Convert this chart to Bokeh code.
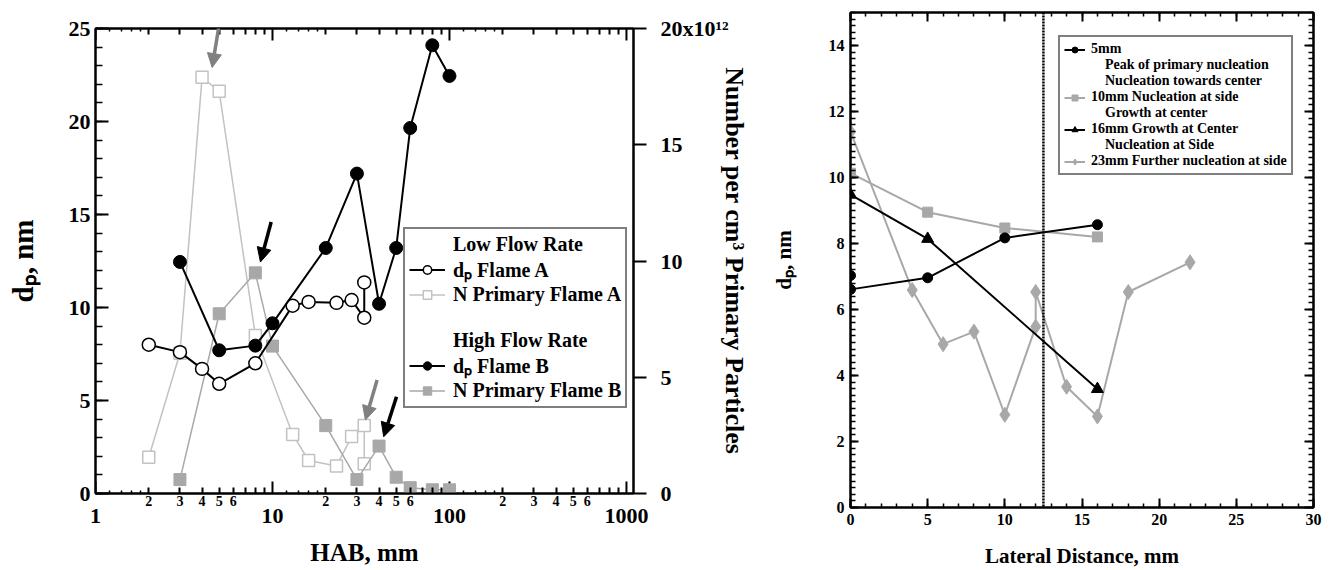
from bokeh.plotting import figure
from bokeh.models import (Range1d, LinearAxis, LogAxis, FixedTicker, SingleIntervalTicker,
                          Legend, LegendItem, Arrow, NormalHead, Span, CustomJSTickFormatter)
from bokeh.layouts import row, column
from bokeh.embed import file_html
from bokeh.resources import INLINE

# ---------------- data: left panel (HAB, log axis) ----------------
hab_A = [2, 3, 4, 5, 8, 13, 16, 23, 28, 33, 33]
dp_A = [8.0, 7.6, 6.7, 5.9, 7.0, 10.1, 10.3, 10.25, 10.4, 9.45, 11.35]
N_A = [1.56, 6.03, 17.9, 17.3, 6.8, 2.54, 1.42, 1.18, 2.45, 2.92, 1.28]      # x10^12 per cm3
hab_B = [3, 5, 8, 10, 20, 30, 40, 50, 60, 80, 100]
dp_B = [12.45, 7.7, 7.95, 9.15, 13.2, 17.2, 10.2, 13.2, 19.65, 24.1, 22.45]
N_B = [0.6, 7.73, 9.49, 6.34, 2.92, 0.6, 2.04, 0.7, 0.25, 0.16, 0.16]       # x10^12 per cm3

decades = [1, 10, 100, 1000]
n_ticks = [0, 5, 10, 15, 20]
n_top_label = "20x10\u00b9\u00b2"

# arrow annotations (start x, start y, end x, end y, colour)
arrow_marks = [
    (5.22, 26.3, 4.56, 22.9, "#808080"),
    (9.83, 14.6, 8.55, 12.45, "#000000"),
    (39.0, 6.1, 33.5, 3.95, "#808080"),
    (50.2, 5.2, 42.5, 3.05, "#000000"),
]

# ---------------- data: right panel (lateral distance) ----------------
lat_5 = [0, 0, 5, 10, 16]
dp_5 = [7.03, 6.61, 6.96, 8.17, 8.57]
lat_10 = [0, 5, 10, 16]
dp_10 = [10.13, 8.95, 8.47, 8.2]
lat_16 = [0, 5, 16]
dp_16 = [9.48, 8.14, 3.59]
lat_23 = [0, 4, 6, 8, 10, 12, 12, 14, 16, 18, 22]
dp_23 = [11.39, 6.59, 4.95, 5.33, 2.81, 5.48, 6.53, 3.66, 2.76, 6.53, 7.43]
center_line = 12.5

SERIF = "Liberation Serif"
GRAY_A = "#c2c2c2"
GRAY_B = "#a8a8a8"
NB = "\u00a0"


def style_axis(ax, major_in, minor_in, size, major_out=0, minor_out=0, standoff=4):
    ax.axis_line_color = "black"
    ax.axis_line_width = 2
    ax.major_tick_line_color = "black"
    ax.major_tick_line_width = 2
    ax.minor_tick_line_color = "black"
    ax.minor_tick_line_width = 1.5
    ax.major_tick_in = major_in
    ax.major_tick_out = major_out
    ax.minor_tick_in = minor_in
    ax.minor_tick_out = minor_out
    ax.major_label_text_font = SERIF
    ax.major_label_text_font_style = "bold"
    ax.major_label_text_font_size = size
    ax.major_label_text_color = "black"
    ax.major_label_standoff = standoff
    ax.axis_label_text_font = SERIF
    ax.axis_label_text_font_style = "bold"
    ax.axis_label_text_color = "black"


# ======================= LEFT PANEL =======================
p1 = figure(width=768, height=570, x_axis_type="log",
            x_range=Range1d(1, 1096), y_range=Range1d(0, 25),
            output_backend="svg", toolbar_location=None,
            min_border_left=95, min_border_right=135, min_border_top=28, min_border_bottom=77)
p1.extra_y_ranges = {"n": Range1d(0, 20)}
p1.grid.grid_line_color = None
p1.outline_line_color = "black"
p1.outline_line_width = 2

mid_ticks = [m * d for d in decades[:-1] for m in range(2, 10)]
fine_ticks = [m * d for d in decades[:-1] for m in (1.2, 1.4, 1.6, 1.8)]
mid_labels = {m * d: (str(m) if m <= 6 else "") for d in decades[:-1] for m in range(2, 10)}

xa = p1.xaxis[0]
xa.ticker = FixedTicker(ticks=mid_ticks, minor_ticks=fine_ticks)
xa.major_label_overrides = mid_labels
style_axis(xa, 6, 3, "14px", standoff=2)

ya = p1.yaxis[0]
ya.ticker = SingleIntervalTicker(interval=5, num_minor_ticks=5)
style_axis(ya, 13, 7, "22px", standoff=5)
ya.axis_label = "d\u209a, nm"
ya.axis_label_text_font_size = "29px"
ya.axis_label_standoff = 27

xb = LogAxis(ticker=FixedTicker(ticks=decades, minor_ticks=[]))
style_axis(xb, 0, 0, "22px", standoff=0)
xb.major_label_overrides = {d: str(d) for d in decades}
xb.axis_line_color = None
xb.major_tick_line_color = None
xb.minor_tick_line_color = None
xb.axis_label = "HAB, mm"
xb.axis_label_text_font_size = "25px"
xb.axis_label_standoff = 13
p1.add_layout(xb, "below")

xt = LogAxis(ticker=FixedTicker(ticks=mid_ticks, minor_ticks=fine_ticks),
             formatter=CustomJSTickFormatter(code="return ''"))
style_axis(xt, 6, 3, "1px", standoff=0)
p1.add_layout(xt, "above")

yr = LinearAxis(y_range_name="n", ticker=FixedTicker(ticks=n_ticks, minor_ticks=[]))
style_axis(yr, 0, 0, "22px", major_out=13, standoff=14)
yr.major_label_overrides = {n_ticks[-1]: n_top_label}
yr.axis_label = "Number per cm\u00b3 Primary Particles"
yr.axis_label_text_font_size = "26px"
yr.axis_label_standoff = -12
p1.add_layout(yr, "right")

# taller inward ticks at decades (bottom and top)
p1.segment(x0=decades, y0=0, x1=decades, y1=0.65, line_color="black", line_width=2)
p1.segment(x0=decades, y0=25, x1=decades, y1=24.35, line_color="black", line_width=2)

nA_l = p1.line(hab_A, N_A, y_range_name="n", line_color=GRAY_A, line_width=1.5)
nA_s = p1.scatter(hab_A, N_A, y_range_name="n", marker="square", size=12,
                  line_color=GRAY_A, fill_color="white", line_width=1.5)
nB_l = p1.line(hab_B, N_B, y_range_name="n", line_color=GRAY_B, line_width=1.5)
nB_s = p1.scatter(hab_B, N_B, y_range_name="n", marker="square", size=12,
                  line_color=GRAY_B, fill_color=GRAY_B)
dA_l = p1.line(hab_A, dp_A, line_color="black", line_width=2)
dA_s = p1.scatter(hab_A, dp_A, marker="circle", size=13, line_color="black",
                  fill_color="white", line_width=1.5)
dB_l = p1.line(hab_B, dp_B, line_color="black", line_width=2)
dB_s = p1.scatter(hab_B, dp_B, marker="circle", size=13, line_color="black", fill_color="black")
dummy1 = p1.line(x=[], y=[], line_alpha=0)

for xs, ys, xe, ye, c in arrow_marks:
    p1.add_layout(Arrow(end=NormalHead(size=14, fill_color=c, line_color=c),
                        x_start=xs, y_start=ys, x_end=xe, y_end=ye,
                        line_color=c, line_width=3.5))

leg1 = Legend(items=[
    LegendItem(label="Low Flow Rate", renderers=[dummy1]),
    LegendItem(label="d\u209a Flame A", renderers=[dA_l, dA_s]),
    LegendItem(label="N Primary Flame A", renderers=[nA_l, nA_s]),
    LegendItem(label=NB, renderers=[dummy1]),
    LegendItem(label="High Flow Rate", renderers=[dummy1]),
    LegendItem(label="d\u209a Flame B", renderers=[dB_l, dB_s]),
    LegendItem(label="N Primary Flame B", renderers=[nB_l, nB_s]),
], location=(308, 85))
leg1.label_text_font = SERIF
leg1.label_text_font_style = "bold"
leg1.label_text_font_size = "20px"
leg1.label_text_color = "black"
leg1.glyph_width = 36
leg1.glyph_height = 21
leg1.label_height = 21
leg1.label_standoff = 8
leg1.spacing = 0
leg1.padding = 4
leg1.margin = 0
leg1.border_line_color = "black"
leg1.border_line_width = 2
p1.add_layout(leg1)

# ======================= RIGHT PANEL =======================
p2 = figure(width=566, height=570, x_range=Range1d(0, 30), y_range=Range1d(0, 15),
            output_backend="svg", toolbar_location=None,
            min_border_left=81, min_border_right=21, min_border_top=12, min_border_bottom=61)
p2.grid.grid_line_color = None
p2.outline_line_color = "black"
p2.outline_line_width = 2

x2 = p2.xaxis[0]
x2.ticker = SingleIntervalTicker(interval=5, num_minor_ticks=5)
style_axis(x2, 9, 4, "16px", standoff=6)
x2.axis_label = "Lateral Distance, mm"
x2.axis_label_text_font_size = "21px"
x2.axis_label_standoff = 16

y2 = p2.yaxis[0]
y2.ticker = SingleIntervalTicker(interval=2, num_minor_ticks=10)
style_axis(y2, 8, 5, "16px", standoff=6)
y2.axis_label = "d\u209a, nm"
y2.axis_label_text_font_size = "21px"
y2.axis_label_standoff = 30

x2t = LinearAxis(ticker=SingleIntervalTicker(interval=5, num_minor_ticks=5),
                 formatter=CustomJSTickFormatter(code="return ''"))
style_axis(x2t, 9, 4, "1px", standoff=0)
p2.add_layout(x2t, "above")
y2r = LinearAxis(ticker=SingleIntervalTicker(interval=2, num_minor_ticks=10),
                 formatter=CustomJSTickFormatter(code="return ''"))
style_axis(y2r, 9, 5, "1px", standoff=0)
p2.add_layout(y2r, "right")

p2.add_layout(Span(location=center_line, dimension="height", line_color="black",
                   line_width=2.5, line_dash="2 1"))

l23 = p2.line(lat_23, dp_23, line_color=GRAY_B, line_width=2)
s23 = p2.scatter(lat_23, dp_23, marker="diamond", size=15, line_color=GRAY_B, fill_color=GRAY_B)
l10 = p2.line(lat_10, dp_10, line_color=GRAY_B, line_width=2)
s10 = p2.scatter(lat_10, dp_10, marker="square", size=10, line_color=GRAY_B, fill_color=GRAY_B)
l5 = p2.line(lat_5, dp_5, line_color="black", line_width=2)
s5 = p2.scatter(lat_5, dp_5, marker="circle", size=10, line_color="black", fill_color="black")
l16 = p2.line(lat_16, dp_16, line_color="black", line_width=2)
s16 = p2.scatter(lat_16, dp_16, marker="triangle", size=12, line_color="black", fill_color="black")
dummy2 = p2.line(x=[], y=[], line_alpha=0)

ind = NB * 4
leg2 = Legend(items=[
    LegendItem(label="5mm", renderers=[l5, s5]),
    LegendItem(label=ind + "Peak of primary nucleation", renderers=[dummy2]),
    LegendItem(label=ind + "Nucleation towards center", renderers=[dummy2]),
    LegendItem(label="10mm Nucleation at side", renderers=[l10, s10]),
    LegendItem(label=ind + "Growth at center", renderers=[dummy2]),
    LegendItem(label="16mm Growth at Center", renderers=[l16, s16]),
    LegendItem(label=ind + "Nucleation at Side", renderers=[dummy2]),
    LegendItem(label="23mm Further nucleation at side", renderers=[l23, s23]),
], location=(208, 332))
leg2.label_text_font = SERIF
leg2.label_text_font_style = "bold"
leg2.label_text_font_size = "14px"
leg2.label_text_color = "black"
leg2.glyph_width = 21
leg2.glyph_height = 15
leg2.label_height = 15
leg2.label_standoff = 6
leg2.spacing = 0
leg2.padding = 4
leg2.margin = 0
leg2.border_line_color = "black"
leg2.border_line_width = 2
p2.add_layout(leg2)

layout = row(column(p1), column(p2))
open("out.html", "w").write(file_html(layout, INLINE, title="HAB and lateral distance"))
